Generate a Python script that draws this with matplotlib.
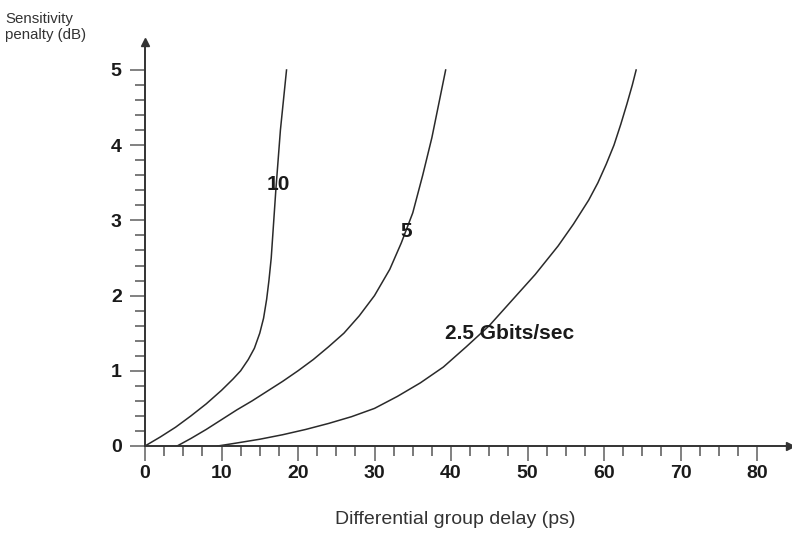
import matplotlib
matplotlib.use("Agg")
import matplotlib.pyplot as plt
import numpy as np

# Data
x10 = [0, 2, 4, 6, 8, 10, 11.5, 12.5, 13.5, 14.3, 15, 15.5, 15.9, 16.2, 16.5, 16.7, 16.9, 17.1, 17.4, 17.7, 18.1, 18.5]
y10 = [0, 0.12, 0.25, 0.40, 0.56, 0.74, 0.89, 1.0, 1.15, 1.3, 1.5, 1.7, 1.95, 2.2, 2.5, 2.8, 3.1, 3.4, 3.8, 4.2, 4.6, 5.0]

x5 = [4.2, 6, 8, 10, 12, 14, 16, 18, 20, 22, 24, 26, 28, 30, 32, 33.5, 35, 36.3, 37.5, 38.5, 39.3]
y5 = [0, 0.1, 0.22, 0.35, 0.48, 0.60, 0.73, 0.86, 1.0, 1.15, 1.32, 1.5, 1.73, 2.0, 2.35, 2.7, 3.1, 3.6, 4.1, 4.6, 5.0]

x25 = [9.5, 12, 15, 18, 21, 24, 27, 30, 33, 36, 39, 42, 45, 48, 51, 54, 56, 58, 59.2, 60.3, 61.3, 62.2, 63, 63.7, 64.2]
y25 = [0, 0.04, 0.09, 0.15, 0.22, 0.30, 0.39, 0.50, 0.66, 0.84, 1.05, 1.32, 1.60, 1.94, 2.28, 2.66, 2.95, 3.27, 3.50, 3.75, 4.0, 4.28, 4.55, 4.8, 5.0]

curve_labels = ["10", "5", "2.5 Gbits/sec"]
label_pos_x = [17.4, 34.2, 47.7]
label_pos_y = [3.48, 2.85, 1.5]

x_major = [0, 10, 20, 30, 40, 50, 60, 70, 80]
y_major = [0, 1, 2, 3, 4, 5]

W, H = 792, 533
fig = plt.figure(figsize=(W / 100, H / 100), dpi=100)
x0px, y0px = 145, 446
xpx, ypx = 7.65, 75.2
right_px, top_px = 790, 42
ax = fig.add_axes([x0px / W, (H - y0px) / H, (right_px - x0px) / W, (y0px - top_px) / H])
ax.set_xlim(0, (right_px - x0px) / xpx)
ax.set_ylim(0, (y0px - top_px) / ypx)

lc = "#2a2a2a"
for xs, ys in [(x10, y10), (x5, y5), (x25, y25)]:
    ax.plot(xs, ys, color=lc, lw=1.1, solid_joinstyle="round", antialiased=True)

font = "Liberation Sans"
for t, lx, ly, fs in zip(curve_labels, label_pos_x, label_pos_y, [15, 15, 15]):
    ax.text(lx, ly, t, ha="center", va="center", fontsize=fs, fontweight="bold",
            family=font, color="#1a1a1a")

for s in ["top", "right"]:
    ax.spines[s].set_visible(False)
for s in ["left", "bottom"]:
    ax.spines[s].set_color("#333333")
    ax.spines[s].set_linewidth(1.4)

ax.plot(1, 0, marker=">", color="#333333", markersize=6, transform=ax.transAxes, clip_on=False)
ax.plot(0, 1, marker="^", color="#333333", markersize=6, transform=ax.transAxes, clip_on=False)

ax.set_xticks(x_major)
ax.set_xticklabels([str(v) for v in x_major])
ax.set_xticks(np.arange(0, 81, 2.5), minor=True)
ax.set_yticks(y_major)
ax.set_yticklabels([str(v) for v in y_major])
ax.set_yticks(np.arange(0, 5.01, 0.2), minor=True)

ax.tick_params(which="major", direction="out", length=10.8, width=1.3, color="#777777",
               labelsize=14, pad=3)
ax.tick_params(which="minor", direction="out", length=7.2, width=1.1, color="#555555")
ax.tick_params(axis="y", which="major", pad=6)
for lab in ax.get_xticklabels() + ax.get_yticklabels():
    lab.set_fontweight("bold")
    lab.set_family(font)
    lab.set_color("#1a1a1a")

fig.text(455 / W, 1 - 520 / H, "Differential group delay (ps)", ha="center", va="center",
         fontsize=14, family=font, color="#333333")
fig.text(5 / W, 1 - 27 / H, "Sensitivity\npenalty (dB)", ha="left", va="center",
         fontsize=10.8, family=font, color="#333333", linespacing=1.25)

fig.savefig("out.png", dpi=100)
